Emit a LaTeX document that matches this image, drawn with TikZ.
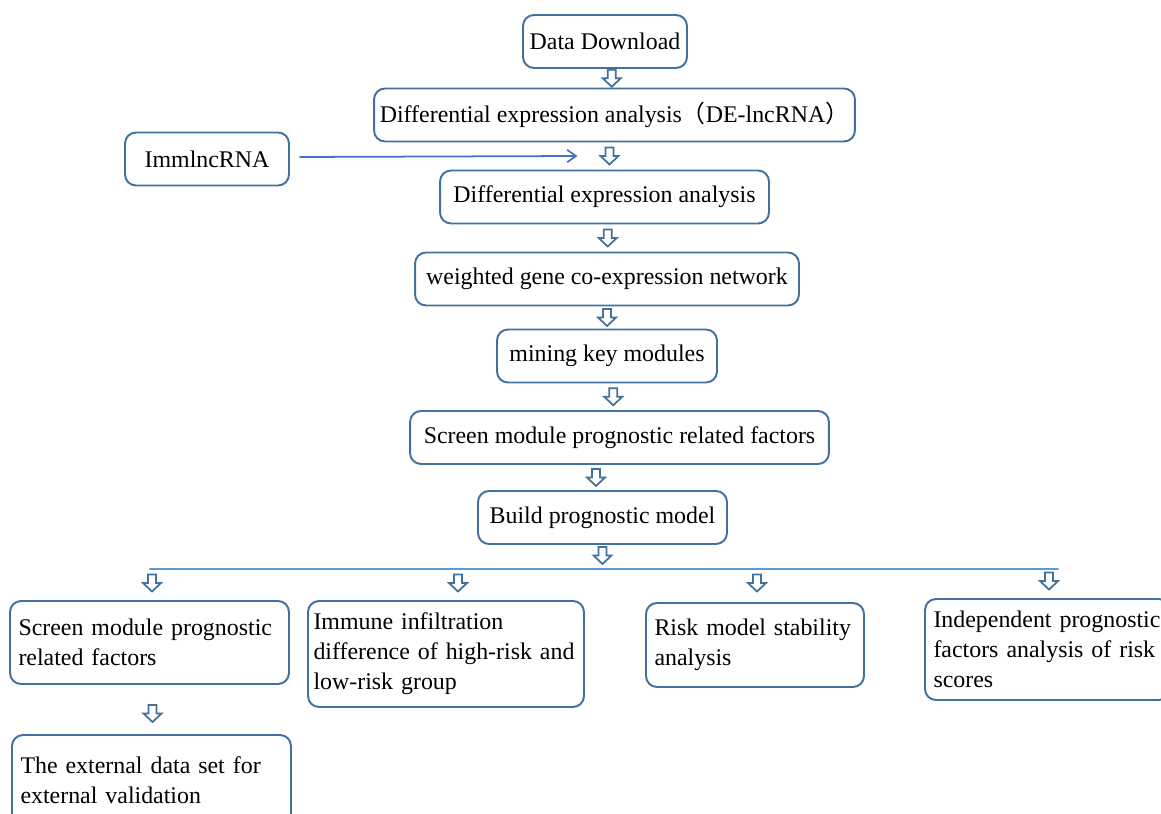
\documentclass[tikz,border=0pt]{standalone}
\usepackage{fontspec}
\setmainfont{Liberation Serif}
\newfontfamily\cjk{Noto Sans CJK SC}
\usepackage{xcolor}
\definecolor{boxblue}{RGB}{65,113,156}
\definecolor{lineblue}{RGB}{68,114,196}
\definecolor{busblue}{RGB}{91,155,213}
\usetikzlibrary{calc,arrows.meta}
\newcommand\nohyph{\hyphenpenalty=10000\relax}

\begin{document}
\begin{tikzpicture}[x=0.02cm,y=-0.02cm,line cap=round]
	\tikzstyle{box}=[draw=boxblue,line width=1.1pt,rounded corners=0.22cm,inner sep=0pt,minimum height=1.06cm,font=\fontsize{13.6}{17}\selectfont];
	\tikzstyle{lowbox}=[box,align=left,inner xsep=0.17cm,font=\fontsize{13.6}{17}\selectfont\nohyph];
	\tikzset{hollow/.pic={\draw[boxblue,line width=1pt,line join=miter] (-4,-8.5) -- (4,-8.5) -- (4,0) -- (9,0) -- (0,8.5) -- (-9,0) -- (-4,0) -- cycle;}}
	\useasboundingbox (0,0) rectangle (1161,814);
	% main chain
	\node[box,minimum width=3.28cm] (dl) at (605,41.5) {Data Download};
	\node[box,minimum width=9.62cm] (de) at (614.5,115) {Differential expression analysis{\cjk （}DE-lncRNA{\cjk ）}};
	\node[box,minimum width=3.28cm] (imm) at (207,159) {ImmlncRNA};
	\node[box,minimum width=6.58cm] (dx) at (604.5,197) {Differential expression analysis};
	\node[box,minimum width=7.68cm] (wg) at (607,279) {weighted gene co-expression network};
	\node[box,minimum width=4.4cm] (mk) at (607,356) {mining key modules};
	\node[box,minimum width=8.38cm] (sm) at (619.5,437.5) {Screen module prognostic related factors};
	\node[box,minimum width=4.98cm] (bp) at (602.5,517.5) {Build prognostic model};
	\pic at ($(dl.south)!.5!(de.north)+(2,0)$) {hollow};
	\pic at ($(de.south)!.5!(dx.north)$) {hollow};
	\pic at ($(dx.south)!.5!(wg.north)+(2,0)$) {hollow};
	\pic at ($(wg.south)!.5!(mk.north)$) {hollow};
	\pic at ($(mk.south)!.5!(sm.north)$) {hollow};
	\pic at ($(sm.south)!.5!(bp.north)+(-15,0)$) {hollow};
	\pic at ($(bp.south)+(0,10.5)$) {hollow};
	\coordinate (tip) at ($(de.south)!.5!(dx.north)+(-32,0)$);
	\draw[lineblue,line width=1pt,-{Straight Barb[length=5pt,width=7pt]}] ($(imm.east)+(10,-2)$) -- (tip);
	% branches
	\draw[busblue,line width=1.4pt] (150,569) coordinate (busl) -- (1058,569) coordinate (busr);
	\node[lowbox,text width=5.24cm,minimum height=1.66cm] (s1) at (149.5,642.5) {Screen module prognostic\\related factors};
	\node[lowbox,inner xsep=0.11cm,text width=5.3cm,minimum height=2.12cm] (im) at (446,654) {Immune infiltration\\difference of high-risk and\\low-risk group};
	\node[lowbox,text width=4.02cm,minimum height=1.68cm] (rk) at (755,645) {Risk model stability\\analysis};
	\node[lowbox,text width=4.56cm,minimum height=2.02cm] (ip) at (1047.5,649.5) {Independent prognostic\\factors analysis of risk\\scores};
	\node[lowbox,text width=5.24cm,minimum height=1.8cm] (ex) at (151.5,780) {The external data set for\\external validation};
	\pic at (152,583) {hollow};
	\pic at (458,583) {hollow};
	\pic at (757,583) {hollow};
	\pic at (1049,581) {hollow};
	\pic at ($(s1.south)!.5!(ex.north)+(2,4)$) {hollow};
\end{tikzpicture}
\end{document}
